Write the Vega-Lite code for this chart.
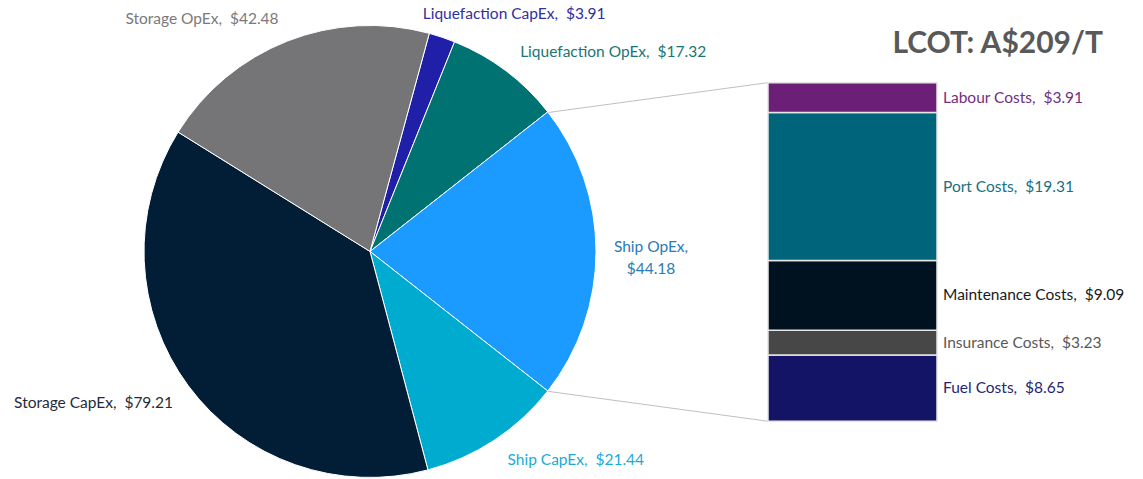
{
  "$schema": "https://vega.github.io/schema/vega-lite/v6.json",
  "width": 1143,
  "height": 479,
  "autosize": {"type": "fit", "contains": "padding"},
  "padding": 0,
  "background": "white",
  "config": {"view": {"stroke": null}, "font": "Lato", "text": {"font": "Lato"}},
  "datasets": {
    "pie": [
      {"category": "Liquefaction CapEx", "value": 3.91, "order": 1, "label": "Liquefaction CapEx,\u00a0 $3.91"},
      {"category": "Liquefaction OpEx", "value": 17.32, "order": 2, "label": "Liquefaction OpEx,\u00a0 $17.32"},
      {"category": "Ship OpEx", "value": 44.18, "order": 3, "label": "Ship OpEx,\n$44.18"},
      {"category": "Ship CapEx", "value": 21.44, "order": 4, "label": "Ship CapEx,\u00a0 $21.44"},
      {"category": "Storage CapEx", "value": 79.21, "order": 5, "label": "Storage CapEx,\u00a0 $79.21"},
      {"category": "Storage OpEx", "value": 42.48, "order": 6, "label": "Storage OpEx,\u00a0 $42.48"}
    ],
    "bar": [
      {"category": "Fuel Costs", "value": 8.65, "order": 1, "label": "Fuel Costs,\u00a0 $8.65"},
      {"category": "Insurance Costs", "value": 3.23, "order": 2, "label": "Insurance Costs,\u00a0 $3.23"},
      {"category": "Maintenance Costs", "value": 9.09, "order": 3, "label": "Maintenance Costs,\u00a0 $9.09"},
      {"category": "Port Costs", "value": 19.31, "order": 4, "label": "Port Costs,\u00a0 $19.31"},
      {"category": "Labour Costs", "value": 3.91, "order": 5, "label": "Labour Costs,\u00a0 $3.91"}
    ]
  },
  "layer": [
    {
      "data": {"values": [{}]},
      "mark": {"type": "rule", "color": "#BFBFBF", "strokeWidth": 1},
      "encoding": {
        "x": {"datum": 548, "type": "quantitative", "scale": {"domain": [0, 1143], "nice": false, "zero": false}, "axis": null},
        "y": {"datum": 40.29, "type": "quantitative", "scale": {"domain": [-7.278, 54.978], "nice": false, "zero": false}, "axis": null},
        "x2": {"datum": 768},
        "y2": {"datum": 44.19}
      }
    },
    {
      "data": {"values": [{}]},
      "mark": {"type": "rule", "color": "#BFBFBF", "strokeWidth": 1},
      "encoding": {
        "x": {"datum": 548, "type": "quantitative", "scale": {"domain": [0, 1143], "nice": false, "zero": false}, "axis": null},
        "y": {"datum": 3.9, "type": "quantitative", "scale": {"domain": [-7.278, 54.978], "nice": false, "zero": false}, "axis": null},
        "x2": {"datum": 768},
        "y2": {"datum": 0}
      }
    },
    {
      "data": {"name": "pie"},
      "mark": {"type": "arc", "outerRadius": 226, "stroke": "white", "strokeWidth": 1},
      "encoding": {
        "x": {"datum": 370, "type": "quantitative", "scale": {"domain": [0, 1143], "nice": false, "zero": false}, "axis": null},
        "y": {"datum": 22.16, "type": "quantitative", "scale": {"domain": [-7.278, 54.978], "nice": false, "zero": false}, "axis": null},
        "theta": {"field": "value", "type": "quantitative", "stack": true, "scale": {"range": [0.26555, 6.54874]}},
        "order": {"field": "order", "type": "quantitative"},
        "color": {
          "field": "category", "type": "nominal", "legend": null,
          "scale": {
            "domain": ["Liquefaction CapEx", "Liquefaction OpEx", "Ship OpEx", "Ship CapEx", "Storage CapEx", "Storage OpEx", "Labour Costs", "Port Costs", "Maintenance Costs", "Insurance Costs", "Fuel Costs"],
            "range": ["#1F1FA8", "#007272", "#1B9BFF", "#00ABD0", "#011E36", "#757578", "#6C1F76", "#00647A", "#00121F", "#474747", "#141466"]
          }
        }
      }
    },
    {
      "data": {"name": "pie"},
      "mark": {
        "type": "text", "radius": 250, "fontSize": 15.5, "baseline": "middle", "lineBreak": "\n", "lineHeight": 22,
        "align": {"expr": "datum.category === 'Ship OpEx' ? 'center' : ((datum.category === 'Storage CapEx' || datum.category === 'Storage OpEx') ? 'right' : 'left')"},
        "dx": {"expr": "datum.category === 'Liquefaction CapEx' ? -27 : (datum.category === 'Ship OpEx' ? 31 : (datum.category === 'Storage CapEx' ? 4 : 0))"},
        "dy": {"expr": "datum.category === 'Ship OpEx' ? -4 : (datum.category === 'Storage CapEx' ? 3 : 0)"}
      },
      "encoding": {
        "x": {"datum": 370, "type": "quantitative", "scale": {"domain": [0, 1143], "nice": false, "zero": false}, "axis": null},
        "y": {"datum": 22.16, "type": "quantitative", "scale": {"domain": [-7.278, 54.978], "nice": false, "zero": false}, "axis": null},
        "theta": {"field": "value", "type": "quantitative", "stack": true, "scale": {"range": [0.26555, 6.54874]}},
        "order": {"field": "order", "type": "quantitative"},
        "text": {"field": "label", "type": "nominal"},
        "fill": {
          "field": "category", "type": "nominal", "legend": null,
          "scale": {
            "domain": ["Liquefaction CapEx", "Liquefaction OpEx", "Ship OpEx", "Ship CapEx", "Storage CapEx", "Storage OpEx", "Labour Costs", "Port Costs", "Maintenance Costs", "Insurance Costs", "Fuel Costs"],
            "range": ["#3030A0", "#1A7575", "#2A7AB8", "#1AABD6", "#1E2D3C", "#7A7A7A", "#70307F", "#1A7080", "#1A1A1A", "#595959", "#262673"]
          }
        }
      }
    },
    {
      "data": {"name": "bar"},
      "transform": [{"stack": "value", "groupby": [], "sort": [{"field": "order", "order": "ascending"}], "as": ["y0", "y1"]}],
      "mark": {"type": "rect", "stroke": "#E6E6E6", "strokeWidth": 1.5},
      "encoding": {
        "x": {"datum": 768, "type": "quantitative", "scale": {"domain": [0, 1143], "nice": false, "zero": false}, "axis": null},
        "x2": {"datum": 937},
        "y": {"field": "y0", "type": "quantitative", "scale": {"domain": [-7.278, 54.978], "nice": false, "zero": false}, "axis": null},
        "y2": {"field": "y1"},
        "color": {"field": "category", "type": "nominal", "legend": null}
      }
    },
    {
      "data": {"name": "bar"},
      "mark": {"type": "text", "align": "left", "baseline": "middle", "fontSize": 15.5},
      "encoding": {
        "x": {"datum": 943, "type": "quantitative", "scale": {"domain": [0, 1143], "nice": false, "zero": false}, "axis": null},
        "y": {"field": "value", "type": "quantitative", "stack": "zero", "bandPosition": 0.5, "scale": {"domain": [-7.278, 54.978], "nice": false, "zero": false}, "axis": null},
        "order": {"field": "order", "type": "quantitative"},
        "detail": {"field": "category", "type": "nominal"},
        "text": {"field": "label", "type": "nominal"},
        "fill": {"field": "category", "type": "nominal", "legend": null}
      }
    },
    {
      "data": {"values": [{"t": "LCOT: A$209/T"}]},
      "mark": {"type": "text", "align": "right", "baseline": "middle", "fontSize": 30, "fontWeight": "bold", "color": "#595959"},
      "encoding": {
        "x": {"datum": 1103, "type": "quantitative", "scale": {"domain": [0, 1143], "nice": false, "zero": false}, "axis": null},
        "y": {"datum": 49.3, "type": "quantitative", "scale": {"domain": [-7.278, 54.978], "nice": false, "zero": false}, "axis": null},
        "text": {"field": "t", "type": "nominal"}
      }
    }
  ]
}
